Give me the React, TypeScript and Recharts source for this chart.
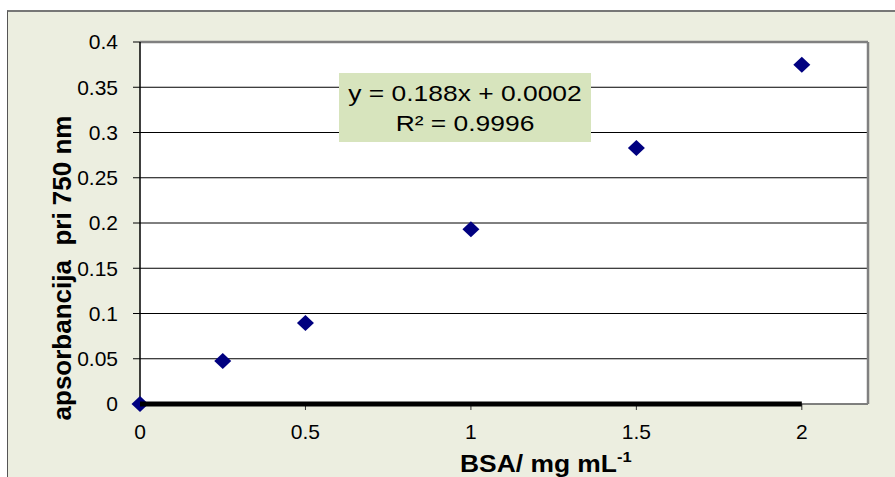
import { ScatterChart, Scatter, XAxis, YAxis, CartesianGrid, ReferenceLine } from "recharts";

const bsa = [0, 0.25, 0.5, 1, 1.5, 2];
const absorbance = [0, 0.0475, 0.0895, 0.193, 0.283, 0.375];
const xTicks = [0, 0.5, 1, 1.5, 2];
const yTicks = [0, 0.05, 0.1, 0.15, 0.2, 0.25, 0.3, 0.35, 0.4];
const baselineX = [0, 2];

const points = bsa.map((x, i) => ({ x, y: absorbance[i] }));
const baseline = baselineX.map((x) => ({ x, y: 0 }));

const font = "'Liberation Sans', Arial, sans-serif";

const Diamond = (props: any) => {
  const { cx, cy } = props;
  if (cx == null || cy == null) return <g />;
  return (
    <polygon
      points={`${cx},${cy - 8} ${cx + 8.5},${cy} ${cx},${cy + 8} ${cx - 8.5},${cy}`}
      fill="#000080"
    />
  );
};

export default function App() {
  return (
    <div
      style={{
        position: "fixed",
        left: 0,
        top: 0,
        width: 895,
        height: 477,
        background: "#fff",
        overflow: "hidden",
        fontFamily: font,
      }}
    >
      {/* chart area frame */}
      <div
        style={{
          position: "absolute",
          left: 7,
          top: 10,
          width: 900,
          height: 480,
          background: "#ECEEE0",
          borderLeft: "1px solid #555",
          borderTop: "2px solid #777",
        }}
      />
      <div style={{ position: "absolute", left: 0, top: 0 }}>
        <ScatterChart width={895} height={477} margin={{ top: 42, right: 27, bottom: 0, left: 0 }}>
          <CartesianGrid vertical={false} stroke="#000" strokeWidth={1} fill="#fff" fillOpacity={1} />
          <XAxis
            type="number"
            dataKey="x"
            domain={[0, 2.2]}
            ticks={xTicks}
            height={73}
            axisLine={{ stroke: "#808080", strokeWidth: 1.5 }}
            tickLine={{ stroke: "#333" }}
            tickSize={6}
            tickMargin={14}
            tick={{ fill: "#000", fontSize: 21, fontFamily: font }}
          />
          <YAxis
            type="number"
            dataKey="y"
            domain={[0, 0.4]}
            ticks={yTicks}
            width={140}
            axisLine={{ stroke: "#000", strokeWidth: 1.5 }}
            tickLine={{ stroke: "#000" }}
            tickSize={7}
            tickMargin={15}
            tick={{ fill: "#000", fontSize: 21, fontFamily: font }}
          />
          <ReferenceLine y={0.4} stroke="#808080" strokeWidth={2.5} />
          <ReferenceLine x={2.2} stroke="#808080" strokeWidth={2.5} />
          <Scatter data={points} shape={Diamond} isAnimationActive={false} />
          <Scatter
            data={baseline}
            shape={() => <g />}
            line={{ stroke: "#000", strokeWidth: 5 }}
            isAnimationActive={false}
          />
        </ScatterChart>
      </div>
      {/* trendline equation box */}
      <div
        style={{
          position: "absolute",
          left: 339,
          top: 73,
          width: 252,
          height: 69,
          background: "#D7E4BD",
          color: "#000",
          fontSize: 22,
          lineHeight: "30px",
          textAlign: "center",
          paddingTop: 6,
          boxSizing: "border-box",
        }}
      >
        <div style={{ transform: "scaleX(1.2)" }}>y = 0.188x + 0.0002</div>
        <div style={{ transform: "scaleX(1.2)" }}>R² = 0.9996</div>
      </div>
      {/* y axis title */}
      <div
        style={{
          position: "absolute",
          left: 62 - 170,
          top: 268 - 15,
          width: 340,
          height: 30,
          lineHeight: "30px",
          textAlign: "center",
          fontSize: 26,
          fontWeight: "bold",
          whiteSpace: "pre",
          transform: "rotate(-90deg)",
        }}
      >
        {"apsorbancija  pri 750 nm"}
      </div>
      {/* x axis title */}
      <div
        style={{
          position: "absolute",
          left: 460,
          top: 450,
          fontSize: 24,
          fontWeight: "bold",
          whiteSpace: "pre",
          transformOrigin: "left center",
          transform: "scaleX(1.1)",
        }}
      >
        BSA/ mg mL
        <span style={{ fontSize: 15, position: "relative", top: -10 }}>-1</span>
      </div>
    </div>
  );
}
